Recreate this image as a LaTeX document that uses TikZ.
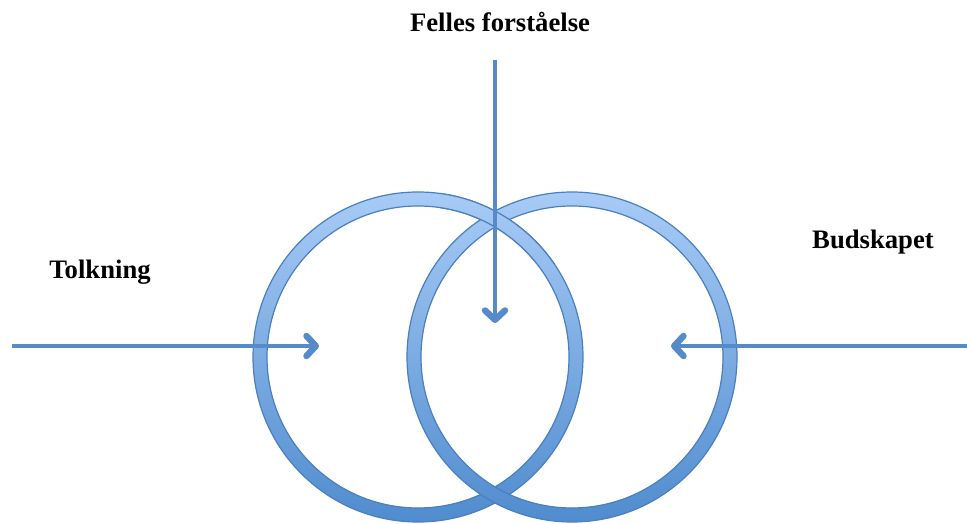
\documentclass[tikz,border=0pt]{standalone}
\usepackage{fontspec}
\setmainfont{Liberation Serif}
\usepackage{tikz}
\usetikzlibrary{arrows.meta,calc,positioning}
\definecolor{ringtop}{RGB}{168,203,246}
\definecolor{ringbot}{RGB}{80,140,206}
\definecolor{ringedge}{RGB}{74,128,190}
\definecolor{arr}{RGB}{84,139,200}
\tikzset{
  lbl/.style={font=\fontsize{20}{24}\selectfont\bfseries,text=black,inner sep=0pt},
  pil/.style={arr,line width=3pt,-{Straight Barb[length=7pt,width=15pt,line width=0pt 1.6,round]}},
  ringedge/.style={draw=ringedge,line width=0.9pt}
}
\newcommand{\ringat}[1]{%
  \shade[top color=ringtop,bottom color=ringbot,even odd rule]
    (#1) circle (165) (#1) circle (151);
  \draw[ringedge] (#1) circle (165) (#1) circle (151);}

\begin{document}
\begin{tikzpicture}[x=0.75pt,y=0.75pt]
  \useasboundingbox (0,0) rectangle (967,524);
  \coordinate (cl) at (418,167);
  \coordinate (cr) at (572,167);
  % rings, linked: left over right at the top, right over left at the bottom
  \ringat{cl}
  \ringat{cr}
  \begin{scope}
    \clip (440,260) rectangle (560,400);
    \ringat{cl}
  \end{scope}
  % labels
  \node[lbl] (felles) at (500,502) {Felles forståelse};
  \node[lbl] (tolk) at (100,252) {Tolkning};
  \node[lbl] (bud) at (873,282) {Budskapet};
  % arrows
  \coordinate (fellesS) at (495,464);
  \coordinate (fellesT) at (495,201);
  \coordinate (tolkS) at (12,178);
  \coordinate (tolkT) at (319,178);
  \coordinate (budS) at (967,178);
  \coordinate (budT) at (671,178);
  \draw[pil] (fellesS) -- (fellesT);
  \draw[pil] (tolkS) -- (tolkT);
  \draw[pil] (budS) -- (budT);
\end{tikzpicture}
\end{document}
